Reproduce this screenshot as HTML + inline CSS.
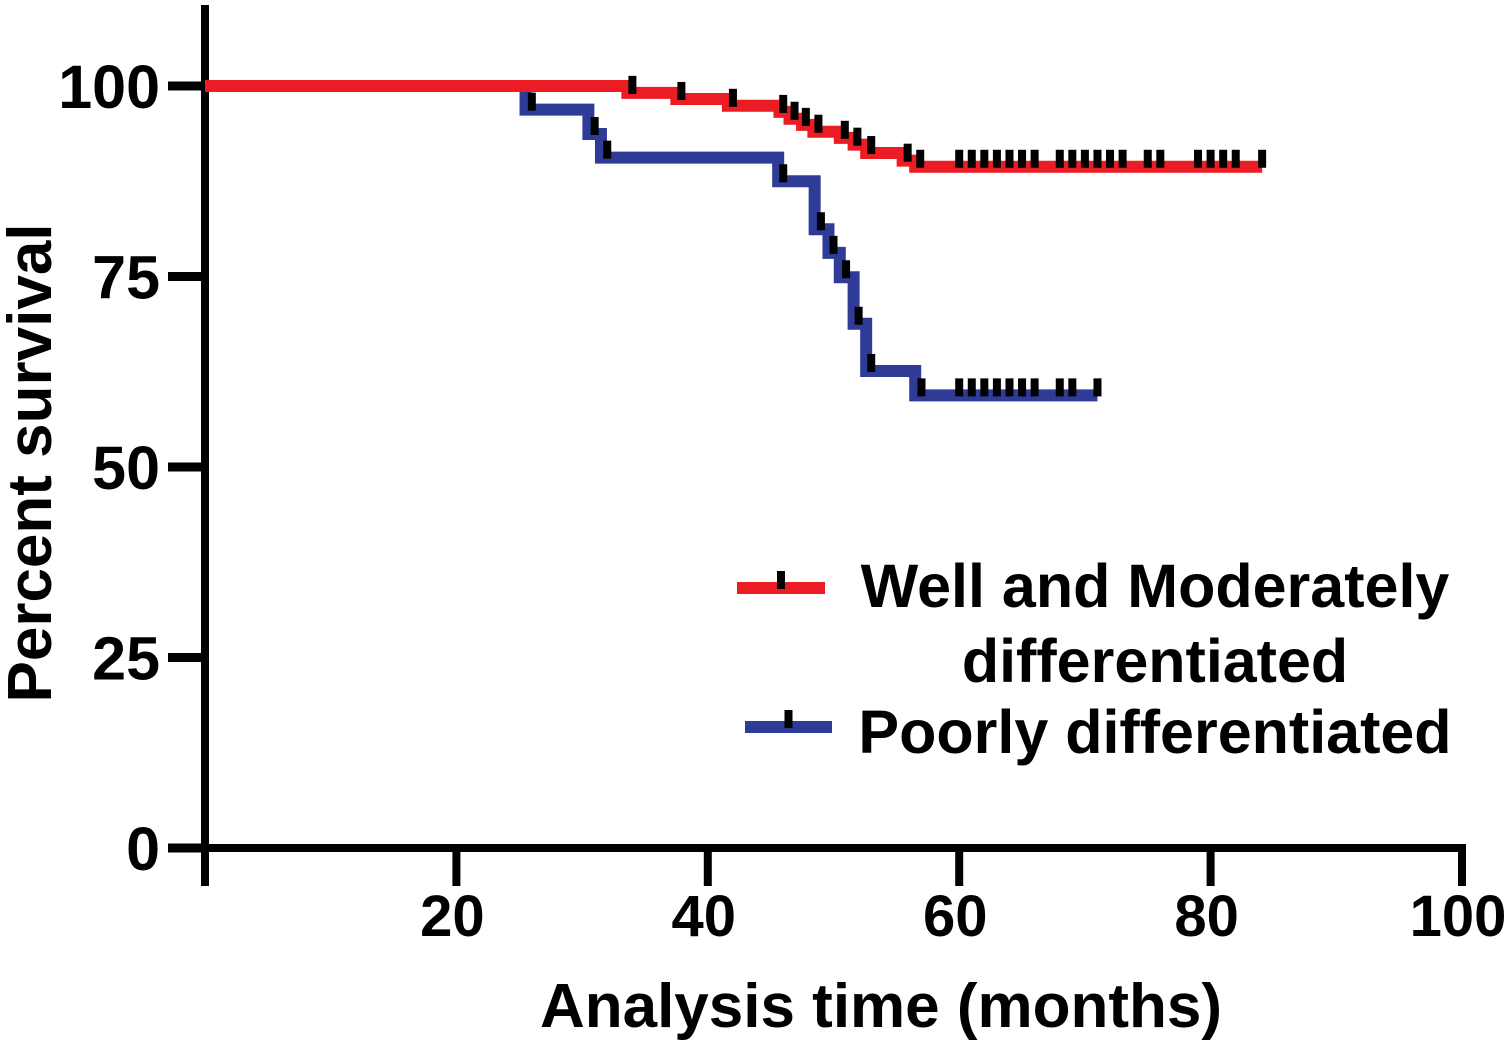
<!DOCTYPE html>
<html><head><meta charset="utf-8"><style>
body{margin:0;background:#fff;}
svg{display:block;font-family:"Liberation Sans",Arial,sans-serif;font-weight:bold;}
</style></head><body>
<svg id="chart" width="1508" height="1044" viewBox="0 0 1508 1044" xmlns="http://www.w3.org/2000/svg">
<g id="axes"></g>
<g id="series"></g>
<g id="legend"></g>
<text transform="translate(51,463) rotate(-90)" text-anchor="middle" font-size="62">Percent survival</text>
<text x="881" y="1027" text-anchor="middle" font-size="62">Analysis time (months)</text>
</svg>
<script>
const xTicks=[20,40,60,80,100];
const yTicks=[0,25,50,75,100];
const redStepTimes=[0,33.6,37.5,41.6,45.7,46.5,47.5,48.4,50.5,51.6,52.6,55.5,56.5];
const redStepValues=[100,99.1,98.3,97.4,96.6,95.7,94.9,94.0,93.2,92.3,91.2,90.2,89.4];
const redEnd=84.1;
const redCensor=[34.0,37.9,42.0,46.0,46.9,47.8,48.8,50.9,51.9,53.0,55.9,56.9,60,61,62,63,64,65,66,68,69,70,71,72,73,75,76,79,80,81,82,84.1];
const blueStepTimes=[0,25.5,30.5,31.5,45.6,48.5,49.6,50.5,51.6,52.6,56.5];
const blueStepValues=[100,96.9,93.7,90.6,87.5,81.2,78.1,74.9,68.8,62.6,59.4];
const blueEnd=71.0;
const blueCensor=[26.0,31.0,32.0,46.0,49.0,50.0,51.0,52.0,53.0,57.0,60,61,62,63,64,65,66,68,69,71.0];

const NS="http://www.w3.org/2000/svg";
const X=t=>205+t*12.57;
const Y=v=>848-v*7.62;
function mk(tag,attrs,parent){const e=document.createElementNS(NS,tag);for(const k in attrs)e.setAttribute(k,attrs[k]);parent.appendChild(e);return e;}
const axes=document.getElementById('axes');
let e=mk('line',{x1:205,y1:5,x2:205,y2:886,stroke:'#000','stroke-width':8},axes);


e=mk('line',{x1:168,y1:848,x2:1466,y2:848,stroke:'#000','stroke-width':8},axes);


yTicks.forEach(v=>{
 let t=mk('line',{x1:168,y1:Y(v),x2:205,y2:Y(v),stroke:'#000','stroke-width':9},axes);
 
 
 let l=mk('text',{x:160,y:Y(v)+22,'text-anchor':'end','font-size':61},axes);
 l.textContent=v;
 
 
});
xTicks.forEach(v=>{
 let t=mk('line',{x1:X(v),y1:848,x2:X(v),y2:886,stroke:'#000','stroke-width':8},axes);
 
 
 let l=mk('text',{x:X(v)-4,y:936,'text-anchor':'middle','font-size':58},axes);
 l.textContent=v;
 
 
});
const series=document.getElementById('series');
function survAt(times,vals,t){let v=vals[0];for(let i=0;i<times.length;i++){if(times[i]<=t)v=vals[i];}return v;}
function drawSeries(times,vals,end,cens,color,name){
 let d='M'+X(times[0])+' '+Y(vals[0]);
 for(let i=1;i<times.length;i++){d+=' H'+X(times[i])+' V'+Y(vals[i]);}
 d+=' H'+X(end);
 let p=mk('path',{d:d,fill:'none',stroke:color,'stroke-width':12,'stroke-linejoin':'miter','stroke-linecap':'butt'},series);
 
 
 cens.forEach(t=>{
  const v=survAt(times,vals,t);
  let r=mk('rect',{x:X(t)-4,y:Y(v)-17,width:8,height:18,fill:'#000'},series);
  
  
 });
}
drawSeries(blueStepTimes,blueStepValues,blueEnd,blueCensor,'#2e3b97','poorly');
drawSeries(redStepTimes,redStepValues,redEnd,redCensor,'#ec1c24','well-moderate');
const lg=document.getElementById('legend');
function entry(x1,x2,y,color,name,lines,tx,ty){
 let l=mk('line',{x1:x1,y1:y,x2:x2,y2:y,stroke:color,'stroke-width':12},lg);
 
 
 let r=mk('rect',{x:(x1+x2)/2-4,y:y-17,width:8,height:18,fill:'#000'},lg);
 
 
 lines.forEach((s,i)=>{
  let t=mk('text',{x:tx,y:ty+i*75,'text-anchor':'middle','font-size':61},lg);
  t.textContent=s;
  
  
 });
}
entry(737,825,588,'#ec1c24','well-moderate',['Well and Moderately','differentiated'],1155,607);
entry(745,832,727,'#2e3b97','poorly',['Poorly differentiated'],1155,753);
</script>
</body></html>
